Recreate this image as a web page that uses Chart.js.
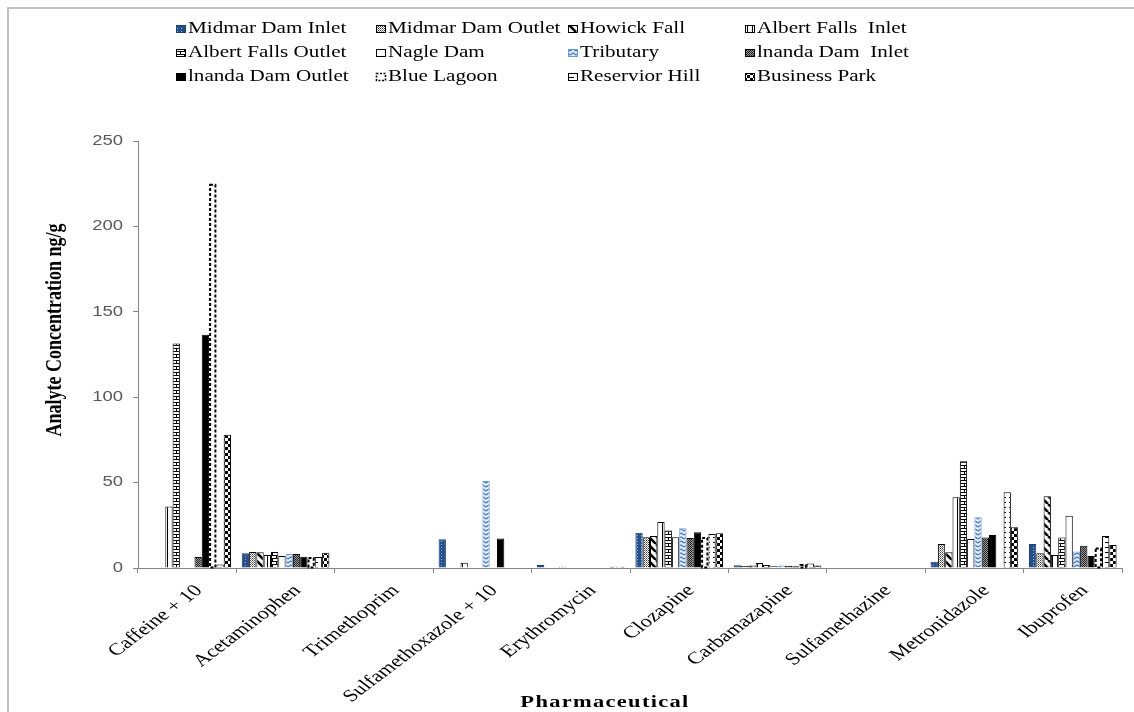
<!DOCTYPE html>
<html>
<head>
<meta charset="utf-8">
<script src="https://cdn.jsdelivr.net/npm/chart.js@4.4.1/dist/chart.umd.min.js"></script>
<style>
  html, body { margin: 0; padding: 0; background: #ffffff; }
  #wrap { width: 1134px; height: 712px; position: relative; overflow: hidden; }
</style>
</head>
<body>
<div id="wrap"><canvas id="c" width="1134" height="712"></canvas></div>
<script>
// Pharmaceutical categories on the x axis
const categories = ["Caffeine + 10", "Acetaminophen", "Trimethoprim", "Sulfamethoxazole + 10",
  "Erythromycin", "Clozapine", "Carbamazapine", "Sulfamethazine", "Metronidazole", "Ibuprofen"];

// Sampling sites (one series each)
const siteNames = ["Midmar Dam Inlet", "Midmar Dam Outlet", "Howick Fall", "Albert Falls  Inlet",
  "Albert Falls Outlet", "Nagle Dam", "Tributary", "lnanda Dam  Inlet",
  "lnanda Dam Outlet", "Blue Lagoon", "Reservior Hill", "Business Park"];

// Analyte concentration, ng/g
const midmarDamInlet    = [0,     8.6, 0, 16.8, 1.8, 20.7, 1.6, 0,  3.7, 14.0];
const midmarDamOutlet   = [0,     9.3, 0,  0,   0,   18.0, 1.1, 0, 14.0,  8.6];
const howickFall        = [0,     9.2, 0,  0,   0,   18.7, 1.5, 0,  9.2, 42.0];
const albertFallsInlet  = [36.0,  7.6, 0,  3.1, 0.8, 27.0, 3.0, 0, 41.4,  7.6];
const albertFallsOutlet = [131.5, 9.3, 0,  0,   0,   21.9, 1.7, 0, 62.5, 17.8];
const nagleDam          = [0,     7.0, 0,  0,   0,   18.0, 1.0, 0, 17.0, 30.6];
const tributary         = [0,     8.2, 0, 51.0, 0,   23.2, 1.5, 0, 29.7,  9.6];
const inandaDamInlet    = [6.5,   8.2, 0,  0,   0,   17.6, 1.3, 0, 17.8, 13.0];
const inandaDamOutlet   = [136.5, 6.6, 0, 17.2, 0,   20.9, 1.0, 0, 19.3,  7.0];
const blueLagoon        = [225.0, 6.4, 0,  0,   0,   18.2, 2.3, 0,  0,   12.0];
const reserviorHill     = [2.0,   6.5, 0,  0,   0.8, 19.9, 2.7, 0, 44.3, 18.7];
const businessPark      = [78.0,  9.0, 0,  0,   0.8, 20.3, 1.5, 0, 23.8, 13.5];

const siteValues = [midmarDamInlet, midmarDamOutlet, howickFall, albertFallsInlet,
  albertFallsOutlet, nagleDam, tributary, inandaDamInlet,
  inandaDamOutlet, blueLagoon, reserviorHill, businessPark];

// y axis tick labels
const yTicks = [0, 50, 100, 150, 200, 250];

const canvas = document.getElementById('c');
const ctx = canvas.getContext('2d');

// ---- fill patterns for the monochrome print style ----
function makePattern(w, h, paint) {
  const t = document.createElement('canvas');
  t.width = w; t.height = h;
  const g = t.getContext('2d');
  g.fillStyle = '#ffffff';
  g.fillRect(0, 0, w, h);
  paint(g, w, h);
  return ctx.createPattern(t, 'repeat');
}
function px(g, x, y, c) { g.fillStyle = c; g.fillRect(x, y, 1, 1); }

const fills = [
  // blue with light dots
  makePattern(4, 3, g => { g.fillStyle = '#244F88'; g.fillRect(0, 0, 4, 3); px(g, 1, 1, '#9DB7DA'); }),
  // fine grey dots
  makePattern(2, 2, g => { px(g, 0, 0, '#3a3a3a'); px(g, 1, 1, '#8a8a8a'); }),
  // wide downward diagonal
  makePattern(8, 8, g => {
    g.strokeStyle = '#000'; g.lineWidth = 2.6;
    for (let k = -16; k <= 16; k += 8) { g.beginPath(); g.moveTo(k, 0); g.lineTo(k + 8, 8); g.stroke(); }
  }),
  // wide vertical lines
  makePattern(5, 1, g => { px(g, 2, 0, '#000'); }),
  // horizontal brick
  makePattern(8, 6, g => {
    g.fillStyle = '#000';
    g.fillRect(0, 0, 8, 1); g.fillRect(0, 3, 8, 1);
    g.fillRect(0, 0, 1, 3); g.fillRect(4, 3, 1, 3);
  }),
  // plain white
  '#ffffff',
  // light blue zigzag
  makePattern(6, 4, g => {
    g.fillStyle = '#E4ECF7'; g.fillRect(0, 0, 6, 4);
    g.strokeStyle = '#3F72B8'; g.lineWidth = 1.2;
    g.beginPath(); g.moveTo(0, 3); g.lineTo(3, 1); g.lineTo(6, 3); g.stroke();
  }),
  // dark grey stipple
  makePattern(2, 2, g => { px(g, 0, 0, '#222'); px(g, 1, 1, '#222'); px(g, 1, 0, '#9a9a9a'); px(g, 0, 1, '#9a9a9a'); }),
  // solid black
  '#000000',
  // white, dashed outline drawn separately
  '#ffffff',
  // short horizontal dashes
  makePattern(8, 5, g => { g.fillStyle = '#000'; g.fillRect(1, 2, 5, 1); }),
  // large checkerboard
  makePattern(6, 6, g => { g.fillStyle = '#000'; g.fillRect(0, 0, 3, 3); g.fillRect(3, 3, 3, 3); })
];
const outlines = ['#1D3F6E', '#000', '#000', '#000', '#000', '#000',
  '#6F9BD3', '#000', '#000', '#000', '#000', '#000'];
const DASHED = 9; // Blue Lagoon series index

const datasets = siteNames.map((name, i) => ({
  label: name,
  data: siteValues[i],
  backgroundColor: fills[i],
  borderColor: outlines[i],
  borderWidth: i === DASHED ? 0 : 1,
  borderSkipped: 'bottom'
}));

// all lettering is drawn slightly widened
const SX = 1.32;
function wideText(g, text, x, y, o) {
  g.save();
  g.translate(x, y);
  g.scale(SX, 1);
  if (o.rotate) g.rotate(o.rotate);
  g.font = o.font;
  g.fillStyle = o.color || '#000';
  g.textAlign = o.align || 'left';
  g.textBaseline = o.baseline || 'middle';
  if (o.spacing) g.letterSpacing = o.spacing;
  g.fillText(text, 0, 0);
  g.restore();
}

const decorations = {
  id: 'decorations',
  beforeDraw(chart) {
    const g = chart.ctx;
    g.save();
    g.fillStyle = '#fff';
    g.fillRect(0, 0, chart.width, chart.height);
    g.strokeStyle = '#C3C3C3';
    g.lineWidth = 2;
    g.strokeRect(8, 8, chart.width + 20, chart.height + 20);
    g.restore();
  },
  afterDatasetsDraw(chart) {
    // dashed outline bars
    const g = chart.ctx;
    const meta = chart.getDatasetMeta(DASHED);
    g.save();
    g.strokeStyle = '#000';
    g.lineWidth = 2;
    g.setLineDash([3, 2]);
    meta.data.forEach(bar => {
      const p = bar.getProps(['x', 'y', 'base', 'width'], true);
      const h = p.base - p.y;
      if (h < 0.5) return;
      g.strokeRect(p.x - p.width / 2 + 1, p.y + 1, p.width - 2, h - 1);
    });
    g.restore();
  },
  afterDraw(chart) {
    const g = chart.ctx;
    const xs = chart.scales.x, ys = chart.scales.y;

    // y tick labels
    yTicks.forEach(v => {
      wideText(g, String(v), ys.right - 15, ys.getPixelForValue(v),
        { font: '14px "Liberation Sans"', color: '#595959', align: 'right' });
    });

    // x category labels, rotated
    categories.forEach((c, i) => {
      wideText(g, c, xs.getPixelForValue(i) + 4, xs.top + 14,
        { font: '17px "Liberation Serif"', color: '#000', align: 'right', baseline: 'top', rotate: -Math.PI / 4 });
    });

    // axis titles
    wideText(g, 'Pharmaceutical', 605, 703,
      { font: 'bold 17px "Liberation Serif"', align: 'center', spacing: '1px' });
    wideText(g, 'Analyte Concentration ng/g', 55, 330,
      { font: 'bold 18px "Liberation Serif"', align: 'center', rotate: -Math.PI / 2 });

    // legend: 3 rows x 4 columns
    const colX = [176, 376, 568, 745];
    const rowY = [29, 53, 77];
    chart.data.datasets.forEach((ds, i) => {
      const x = colX[i % 4], y = rowY[Math.floor(i / 4)];
      g.save();
      g.fillStyle = ds.backgroundColor;
      g.fillRect(x, y - 4, 10, 8);
      g.strokeStyle = ds.borderColor;
      g.lineWidth = 1;
      if (i === DASHED) { g.lineWidth = 1.6; g.setLineDash([2, 1.5]); }
      g.strokeRect(x + 0.5, y - 3.5, 9, 7);
      g.restore();
      wideText(g, ds.label, x + 12, y, { font: '16px "Liberation Serif"', color: '#000' });
    });
  }
};

new Chart(ctx, {
  type: 'bar',
  data: { labels: categories, datasets },
  options: {
    responsive: false,
    animation: false,
    layout: { padding: { top: 141, right: 12, left: 0, bottom: 0 } },
    datasets: { bar: { categoryPercentage: 0.89, barPercentage: 1.0 } },
    plugins: { legend: { display: false }, tooltip: { enabled: false } },
    scales: {
      x: {
        grid: { display: true, drawOnChartArea: false, drawTicks: true, tickLength: 5, color: '#868686', offset: true },
        border: { color: '#868686', width: 1 },
        ticks: { display: false },
        afterFit: s => { s.height = 144; }
      },
      y: {
        min: 0,
        max: 250,
        afterBuildTicks: s => { s.ticks = yTicks.map(v => ({ value: v })); },
        grid: { display: true, drawOnChartArea: false, drawTicks: true, tickLength: 5, color: '#868686' },
        border: { color: '#868686', width: 1 },
        ticks: { display: false },
        afterFit: s => { s.width = 138; }
      }
    }
  },
  plugins: [decorations]
});
</script>
</body>
</html>
